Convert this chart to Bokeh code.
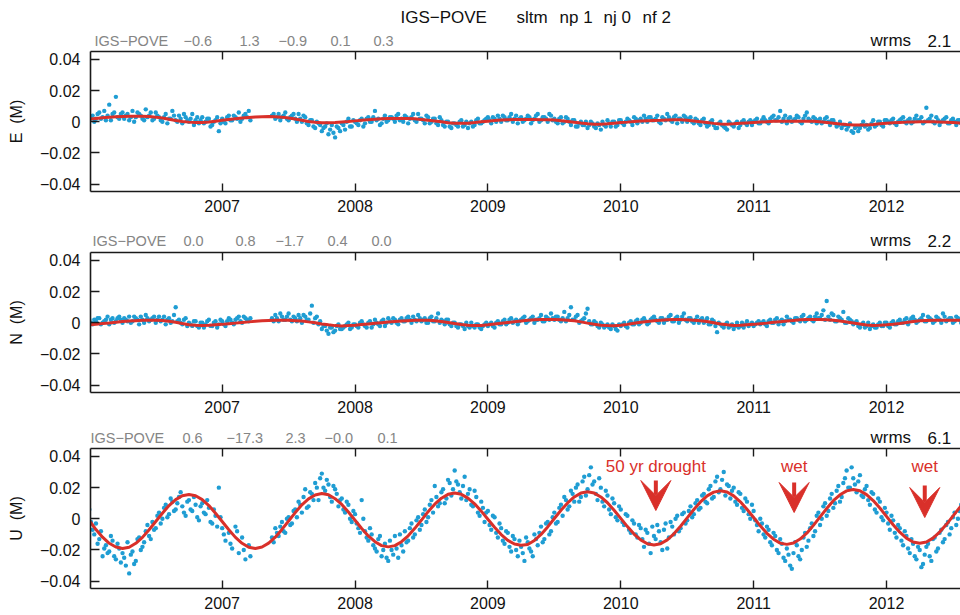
import numpy as np
from bokeh.plotting import figure
from bokeh.layouts import column
from bokeh.models import LinearAxis, FixedTicker, Label, Arrow, VeeHead, Range1d
from bokeh.core.properties import value
from bokeh.embed import file_html
from bokeh.resources import INLINE

# ---------------- data ----------------
OBS_START = 2006.0     # first plotted observation epoch (decimal year), series a
OBS_START_B = 2006.0125  # series b epochs sit between those of series a
OBS_STEP = 0.025       # spacing of the plotted observations (years)
FIT_START = 2006.0
FIT_STEP = 0.05

e_obs = [
    0.001, 0.004, 0.002, 0.006, 0.003, 0.001, 0.011, 0.005, 0.016, 0.002,
    0.006, 0.004, 0.001, 0.007, 0.003, 0.005, 0.002, 0.008, 0.004, 0.001,
    0.006, 0.003, 0.000, 0.005, 0.002, 0.007, 0.001, 0.004, -0.001, 0.003,
    0.000, 0.005, 0.001, -0.001, 0.003, 0.000, 0.002, -0.002, 0.001, -0.006,
    0.002, -0.001, 0.004, 0.001, 0.003, 0.006, 0.002, 0.005, 0.007, None,
    None, None, None, None, None, 0.004, 0.002, 0.005, 0.003, 0.006,
    0.001, 0.004, 0.002, 0.005, 0.000, 0.003, -0.002, 0.001, -0.004, -0.001,
    -0.006, -0.003, -0.008, -0.002, -0.010, -0.004, -0.001, -0.005, 0.002, -0.003,
    0.000, -0.002, 0.002, -0.001, 0.003, 0.000, 0.007, 0.002, -0.001, 0.004,
    0.001, 0.003, 0.000, 0.005, 0.002, 0.004, -0.001, 0.003, 0.001, 0.005,
    0.002, -0.001, 0.003, 0.000, 0.002, -0.002, 0.001, -0.003, 0.000, -0.004,
    -0.001, -0.003, 0.001, -0.002, -0.004, 0.000, -0.002, 0.002, -0.001, 0.001,
    0.003, -0.001, 0.002, 0.004, 0.000, 0.003, 0.001, 0.005, 0.002, -0.001,
    0.003, 0.001, 0.004, -0.001, 0.002, 0.005, 0.001, 0.003, 0.000, 0.004,
    0.002, -0.001, 0.003, 0.000, 0.002, -0.002, 0.001, -0.003, 0.000, -0.002,
    -0.004, 0.000, -0.003, -0.001, -0.005, -0.002, 0.001, -0.003, 0.000, -0.002,
    0.001, -0.002, 0.002, 0.000, 0.003, -0.001, 0.002, 0.004, 0.000, 0.003,
    0.001, 0.004, -0.001, 0.002, 0.005, 0.001, 0.003, -0.001, 0.002, 0.004,
    0.000, 0.003, -0.001, 0.001, -0.002, 0.002, -0.003, 0.000, -0.002, -0.004,
    0.000, -0.003, -0.005, -0.001, -0.003, 0.000, -0.002, 0.001, -0.002, 0.001,
    0.000, 0.002, -0.001, 0.003, 0.000, 0.002, 0.004, 0.001, 0.007, 0.002,
    -0.001, 0.003, 0.001, 0.004, 0.000, 0.002, 0.006, 0.001, 0.003, -0.001,
    0.002, 0.000, 0.003, -0.002, 0.001, -0.003, 0.000, -0.002, -0.005, -0.001,
    -0.007, -0.003, -0.004, 0.000, -0.002, -0.004, 0.001, -0.002, 0.000, -0.003,
    0.001, -0.001, 0.002, -0.002, 0.001, 0.003, -0.001, 0.002, 0.000, 0.004,
    0.001, -0.001, 0.009, 0.002, 0.000, 0.003, -0.002, 0.001, 0.003, -0.001,
    0.002, -0.002, 0.001, 0.000,
]

e_obs_b = [
    0.003, 0.000, 0.005, 0.002, 0.007, 0.004, 0.001, 0.006, 0.003, 0.005,
    0.002, 0.005, 0.003, 0.000, 0.006, 0.004, 0.001, 0.003, 0.006, 0.002,
    0.004, 0.001, 0.003, -0.001, 0.002, 0.004, 0.000, 0.002, 0.005, 0.001,
    0.002, -0.002, 0.003, 0.001, -0.001, 0.002, -0.003, 0.000, 0.003, -0.001,
    0.000, 0.003, 0.001, 0.004, 0.002, 0.000, 0.004, 0.003, 0.001, None,
    None, None, None, None, None, 0.005, 0.003, 0.001, 0.004, 0.002,
    0.003, 0.005, 0.000, 0.002, 0.004, -0.001, 0.001, -0.003, 0.000, -0.002,
    -0.004, -0.001, -0.005, -0.007, -0.003, -0.006, -0.002, 0.000, -0.003, 0.001,
    -0.001, 0.001, -0.003, 0.002, 0.000, 0.003, 0.001, -0.002, 0.002, 0.000,
    0.003, 0.002, 0.004, 0.001, 0.000, 0.003, 0.002, 0.005, 0.000, 0.002,
    0.001, 0.004, -0.001, 0.002, -0.001, 0.003, -0.002, 0.000, -0.003, -0.001,
    -0.002, 0.000, -0.003, 0.000, -0.001, -0.003, 0.001, -0.001, 0.000, 0.002,
    0.001, 0.003, 0.000, 0.002, 0.004, 0.001, 0.003, 0.000, 0.004, 0.002,
    0.000, 0.002, 0.003, 0.001, 0.004, 0.000, 0.003, 0.002, 0.005, 0.001,
    0.000, 0.002, -0.001, 0.003, 0.000, 0.001, -0.003, -0.001, -0.002, 0.000,
    -0.002, -0.001, -0.004, -0.002, 0.000, -0.003, -0.001, 0.000, -0.003, 0.001,
    -0.001, 0.000, 0.001, -0.002, 0.002, 0.001, 0.000, 0.002, 0.003, 0.001,
    0.002, 0.000, 0.003, 0.001, 0.003, 0.000, 0.004, 0.002, 0.000, 0.003,
    0.002, 0.000, 0.002, -0.001, 0.001, -0.001, -0.002, 0.001, -0.004, -0.001,
    -0.002, -0.004, 0.000, -0.002, -0.001, -0.004, 0.000, -0.001, 0.000, -0.002,
    0.001, -0.001, 0.001, 0.001, -0.001, 0.003, 0.001, 0.003, 0.000, 0.004,
    0.002, 0.000, 0.002, 0.003, -0.001, 0.004, 0.002, 0.000, 0.002, 0.001,
    -0.001, 0.002, 0.000, 0.001, -0.001, -0.002, -0.004, -0.002, -0.003, -0.006,
    -0.004, -0.006, -0.002, -0.003, -0.005, -0.001, -0.003, 0.000, -0.002, 0.001,
    0.000, 0.001, -0.001, 0.000, 0.002, 0.000, 0.001, -0.001, 0.002, 0.001,
    0.003, 0.000, 0.001, 0.004, -0.001, 0.001, 0.000, 0.002, -0.001, 0.001,
    0.000, 0.001, -0.001, 0.002,
]

n_obs = [
    0.002, -0.001, 0.001, 0.003, 0.000, 0.002, -0.001, 0.003, 0.001, 0.004,
    0.000, 0.002, 0.004, 0.001, 0.003, -0.001, 0.002, 0.005, 0.001, 0.003,
    0.000, 0.004, 0.002, -0.001, 0.003, 0.001, 0.010, 0.002, -0.001, 0.003,
    0.000, -0.002, 0.001, -0.003, 0.000, -0.001, 0.002, -0.002, 0.001, -0.001,
    0.001, -0.002, 0.003, 0.000, 0.002, 0.004, 0.000, 0.003, 0.001, None,
    None, None, None, None, None, 0.003, 0.005, 0.001, 0.004, 0.002,
    0.006, 0.001, 0.003, 0.005, 0.000, 0.004, 0.002, 0.011, 0.003, -0.001,
    -0.004, -0.002, -0.007, -0.003, -0.005, -0.001, -0.004, -0.002, 0.000, -0.003,
    -0.001, -0.003, 0.001, -0.002, 0.000, -0.003, 0.002, -0.001, 0.001, -0.002,
    0.003, 0.000, 0.002, -0.001, 0.003, 0.001, 0.004, 0.000, 0.002, 0.005,
    0.001, 0.003, 0.000, 0.004, 0.001, 0.006, 0.002, -0.001, 0.002, -0.002,
    0.000, -0.003, -0.001, -0.004, -0.002, 0.000, -0.003, -0.001, -0.004, -0.001,
    -0.002, 0.000, -0.003, 0.001, -0.001, 0.002, 0.000, 0.003, 0.001, -0.001,
    0.002, 0.004, 0.001, 0.003, 0.000, 0.002, 0.005, 0.001, 0.003, 0.006,
    0.002, 0.004, 0.001, 0.007, 0.003, 0.010, 0.002, 0.005, 0.001, 0.003,
    0.009, -0.001, 0.001, -0.002, 0.000, -0.003, -0.001, -0.004, -0.002, -0.005,
    -0.002, 0.000, -0.003, 0.001, -0.001, 0.002, 0.000, 0.003, -0.001, 0.002,
    0.004, 0.001, 0.003, 0.000, 0.002, 0.005, 0.001, 0.004, 0.002, 0.006,
    0.001, 0.003, 0.000, 0.004, 0.002, 0.000, 0.003, -0.001, 0.001, -0.006,
    -0.001, -0.003, 0.000, -0.002, -0.004, 0.000, -0.002, -0.003, 0.001, -0.001,
    -0.002, 0.000, -0.001, 0.001, -0.002, 0.002, 0.000, 0.003, 0.001, -0.001,
    0.004, 0.002, 0.000, 0.003, 0.001, 0.005, 0.002, 0.004, 0.001, 0.006,
    0.003, 0.008, 0.014, 0.002, 0.005, 0.001, 0.003, 0.007, 0.000, 0.002,
    -0.001, 0.001, -0.003, 0.000, -0.002, -0.004, -0.001, -0.003, 0.000, -0.002,
    0.000, -0.003, 0.001, -0.001, 0.002, 0.000, 0.003, 0.001, 0.004, 0.000,
    0.002, 0.005, 0.001, 0.003, 0.000, 0.004, 0.002, 0.006, 0.001, 0.003,
    0.000, 0.004, 0.002, 0.001,
]

n_obs_b = [
    0.000, 0.002, 0.003, -0.001, 0.001, 0.004, 0.002, 0.000, 0.003, 0.002,
    0.003, 0.001, 0.000, 0.004, 0.002, 0.004, 0.000, 0.003, 0.002, 0.004,
    0.002, 0.001, 0.004, 0.002, 0.000, 0.005, 0.001, 0.000, 0.002, -0.002,
    -0.001, 0.001, -0.002, 0.000, -0.003, 0.001, -0.002, 0.000, -0.003, 0.002,
    -0.001, 0.001, 0.002, -0.001, 0.003, 0.001, 0.004, 0.002, 0.003, None,
    None, None, None, None, None, 0.001, 0.003, 0.006, 0.002, 0.004,
    0.002, 0.004, 0.001, 0.003, 0.005, 0.002, 0.006, 0.000, 0.004, 0.001,
    -0.002, -0.005, -0.003, -0.006, -0.002, -0.004, -0.003, -0.001, -0.004, -0.001,
    -0.002, 0.000, -0.001, -0.003, 0.001, -0.001, 0.000, -0.002, 0.002, 0.000,
    0.001, 0.003, 0.000, 0.002, 0.001, 0.003, 0.002, 0.004, 0.001, 0.003,
    0.002, 0.000, 0.003, 0.001, 0.003, 0.000, 0.001, 0.002, -0.001, 0.000,
    -0.002, -0.001, -0.002, 0.000, -0.003, -0.002, -0.001, -0.003, -0.002, 0.000,
    -0.001, -0.002, 0.000, -0.001, 0.001, -0.001, 0.002, 0.000, 0.002, 0.001,
    0.003, 0.000, 0.002, 0.004, 0.002, 0.003, 0.001, 0.004, 0.002, 0.003,
    0.004, 0.002, 0.003, 0.001, 0.005, 0.002, 0.004, 0.000, 0.002, 0.006,
    0.001, -0.001, 0.000, -0.003, -0.001, -0.002, -0.003, -0.001, -0.004, -0.001,
    -0.001, -0.002, 0.000, -0.001, 0.001, -0.001, 0.002, 0.001, 0.000, 0.003,
    0.002, 0.000, 0.003, 0.002, 0.004, 0.001, 0.003, 0.000, 0.004, 0.002,
    0.003, 0.001, 0.002, 0.000, 0.003, 0.001, -0.001, 0.002, -0.002, 0.000,
    -0.002, -0.001, -0.003, -0.001, -0.002, -0.003, 0.000, -0.001, -0.002, 0.000,
    -0.001, 0.001, 0.000, -0.001, 0.001, 0.000, 0.002, -0.001, 0.002, 0.001,
    0.002, 0.001, 0.003, 0.002, 0.004, 0.001, 0.003, 0.002, 0.004, 0.003,
    0.005, 0.002, 0.004, 0.006, 0.001, 0.004, 0.002, 0.000, 0.003, 0.001,
    0.000, -0.002, -0.001, -0.003, 0.000, -0.002, -0.003, -0.001, -0.002, 0.000,
    -0.002, 0.000, -0.001, 0.001, 0.000, 0.002, -0.001, 0.003, 0.002, 0.001,
    0.003, 0.001, 0.004, 0.002, 0.001, 0.003, 0.000, 0.004, 0.002, 0.003,
    0.001, 0.003, 0.000, 0.002,
]

u_obs = [
    0.006, -0.007, -0.003, -0.013, -0.024, -0.017, -0.021, -0.014, -0.026, -0.019,
    -0.022, -0.030, -0.035, -0.021, -0.027, -0.012, -0.018, -0.008, -0.011, -0.002,
    -0.006, 0.004, 0.000, 0.009, 0.003, 0.011, 0.006, 0.014, 0.008, 0.002,
    0.012, 0.005, 0.009, -0.001, 0.010, 0.003, 0.007, -0.003, 0.002, 0.020,
    -0.006, -0.014, -0.009, -0.019, -0.005, -0.022, -0.012, -0.026, -0.017, None,
    None, None, None, None, None, -0.012, -0.006, -0.011, -0.002, -0.009,
    0.001, -0.003, 0.006, 0.011, 0.004, 0.019, 0.008, 0.016, 0.023, 0.012,
    0.029, 0.018, 0.022, 0.011, 0.019, 0.008, 0.013, 0.004, 0.009, -0.002,
    0.003, -0.006, 0.012, -0.008, -0.014, -0.010, -0.019, -0.013, -0.024, -0.016,
    -0.027, -0.020, -0.011, -0.025, -0.017, -0.008, -0.014, -0.003, -0.010, 0.001,
    -0.004, 0.006, 0.001, 0.012, 0.021, 0.008, 0.017, 0.010, 0.025, 0.015,
    0.031, 0.022, 0.013, 0.027, 0.016, 0.009, 0.018, 0.004, 0.011, -0.002,
    0.005, -0.007, 0.001, -0.012, -0.006, -0.016, -0.009, -0.021, -0.013, -0.024,
    -0.018, -0.027, -0.015, -0.021, -0.010, -0.017, -0.005, -0.013, -0.002, -0.008,
    0.004, -0.002, 0.009, 0.014, 0.006, 0.018, 0.011, 0.022, 0.014, 0.027,
    0.019, 0.033, 0.024, 0.012, 0.020, 0.008, 0.015, 0.003, 0.010, -0.001,
    0.006, -0.004, 0.002, -0.009, -0.003, -0.012, -0.006, -0.018, -0.009, -0.022,
    -0.011, -0.004, -0.015, -0.007, -0.019, -0.002, -0.010, 0.002, -0.006, 0.004,
    -0.001, 0.008, 0.003, 0.012, 0.007, 0.016, 0.010, 0.021, 0.014, 0.027,
    0.019, 0.030, 0.022, 0.013, 0.020, 0.009, 0.016, 0.005, 0.011, 0.000,
    0.005, -0.004, 0.000, -0.010, -0.005, -0.015, -0.009, -0.020, -0.013, -0.025,
    -0.019, -0.030, -0.022, -0.017, -0.026, -0.012, -0.018, -0.006, -0.011, 0.002,
    -0.004, 0.008, 0.002, 0.013, 0.007, 0.018, 0.011, 0.023, 0.031, 0.020,
    0.026, 0.017, 0.028, 0.014, 0.021, 0.009, 0.016, 0.004, 0.011, -0.001,
    0.004, -0.007, -0.001, -0.012, -0.006, -0.017, -0.011, -0.022, -0.016, -0.026,
    -0.020, -0.029, -0.018, -0.024, -0.013, -0.021, -0.009, -0.015, -0.004, -0.010,
    0.001, -0.004, 0.005, 0.008,
]

u_obs_b = [
    -0.002, -0.010, -0.016, -0.008, -0.019, -0.022, -0.011, -0.024, -0.016, -0.028,
    -0.025, -0.015, -0.023, -0.029, -0.013, -0.020, -0.015, -0.004, -0.013, -0.007,
    0.002, -0.003, 0.007, 0.001, 0.013, 0.005, 0.010, 0.017, 0.004, 0.011,
    0.006, 0.014, 0.001, 0.008, 0.004, 0.012, -0.002, 0.006, -0.005, 0.001,
    -0.010, None, -0.016, None, -0.008, None, -0.020, None, -0.024, None,
    None, None, None, None, None, -0.015, -0.009, -0.005, -0.008, 0.000,
    -0.004, 0.005, 0.001, 0.009, 0.014, 0.007, 0.017, 0.012, 0.020, 0.026,
    0.020, 0.025, 0.014, 0.021, 0.016, 0.012, 0.006, 0.011, 0.000, 0.005,
    -0.003, -0.009, 0.000, -0.012, -0.006, -0.017, -0.021, -0.011, -0.020, -0.025,
    -0.014, -0.023, -0.019, -0.010, -0.021, -0.015, -0.006, -0.012, -0.001, -0.007,
    0.003, -0.002, 0.009, 0.004, 0.014, 0.010, 0.019, 0.013, 0.023, 0.019,
    0.024, 0.017, 0.021, 0.012, 0.019, 0.008, 0.014, 0.002, 0.007, 0.004,
    -0.004, 0.002, -0.009, -0.003, -0.014, -0.008, -0.018, -0.011, -0.020, -0.014,
    -0.022, -0.012, -0.019, -0.024, -0.013, -0.009, -0.015, -0.003, -0.010, 0.001,
    -0.003, 0.007, 0.002, 0.012, 0.008, 0.016, 0.020, 0.011, 0.024, 0.015,
    0.028, 0.022, 0.016, 0.026, 0.011, 0.018, 0.006, 0.013, 0.001, 0.008,
    -0.002, 0.003, -0.007, -0.001, -0.010, -0.004, -0.013, -0.007, -0.016, -0.005,
    -0.013, -0.008, -0.020, -0.003, -0.012, -0.005, 0.000, -0.008, 0.003, -0.003,
    0.005, 0.001, 0.010, 0.006, 0.015, 0.011, 0.019, 0.013, 0.024, 0.017,
    0.025, 0.015, 0.021, 0.018, 0.011, 0.017, 0.007, 0.013, 0.003, 0.009,
    -0.001, -0.008, -0.003, -0.012, -0.007, -0.017, -0.011, -0.022, -0.016, -0.027,
    -0.023, -0.032, -0.015, -0.024, -0.020, -0.009, -0.014, -0.003, -0.008, 0.004,
    0.000, 0.010, 0.005, 0.016, 0.010, 0.021, 0.014, 0.026, 0.020, 0.033,
    0.022, 0.024, 0.015, 0.019, 0.012, 0.017, 0.006, 0.013, 0.001, 0.007,
    -0.003, 0.002, -0.009, -0.004, -0.014, -0.008, -0.019, -0.013, -0.024, -0.018,
    -0.031, -0.023, -0.016, -0.027, -0.012, -0.019, -0.007, -0.013, -0.002, -0.006,
    0.004, 0.000, 0.009, 0.006,
]

e_fit = [
    0.0018, 0.0022, 0.0026, 0.0029, 0.0032, 0.0034, 0.0035, 0.0036, 0.0036, 0.0034,
    0.0030, 0.0024, 0.0016, 0.0008, 0.0002, -0.0002, -0.0004, -0.0004, -0.0001, 0.0004,
    0.0010, 0.0015, 0.0020, 0.0024, 0.0028, 0.0031, 0.0033, 0.0034, 0.0033, 0.0030,
    0.0025, 0.0018, 0.0010, 0.0002, -0.0003, -0.0006, -0.0006, -0.0004, -0.0001, 0.0002,
    0.0006, 0.0010, 0.0014, 0.0017, 0.0019, 0.0021, 0.0022, 0.0022, 0.0021, 0.0019,
    0.0015, 0.0010, 0.0005, 0.0000, -0.0006, -0.0009, -0.0010, -0.0009, -0.0005, 0.0000,
    0.0004, 0.0008, 0.0011, 0.0013, 0.0015, 0.0015, 0.0015, 0.0015, 0.0014, 0.0013,
    0.0011, 0.0007, 0.0002, -0.0003, -0.0008, -0.0012, -0.0015, -0.0015, -0.0013, -0.0009,
    -0.0005, -0.0002, 0.0002, 0.0005, 0.0007, 0.0009, 0.0010, 0.0012, 0.0013, 0.0013,
    0.0010, 0.0005, 0.0000, -0.0005, -0.0010, -0.0014, -0.0015, -0.0013, -0.0010, -0.0007,
    -0.0004, -0.0001, 0.0001, 0.0003, 0.0004, 0.0004, 0.0004, 0.0004, 0.0004, 0.0003,
    0.0000, -0.0004, -0.0009, -0.0014, -0.0018, -0.0020, -0.0021, -0.0020, -0.0017, -0.0013,
    -0.0009, -0.0006, -0.0004, -0.0002, -0.0001, 0.0000, 0.0000, 0.0000, -0.0001, -0.0003,
    -0.0005, -0.0007, -0.0008,
]

n_fit = [
    -0.0013, -0.0009, -0.0005, -0.0001, 0.0004, 0.0009, 0.0012, 0.0014, 0.0016, 0.0017,
    0.0017, 0.0015, 0.0010, 0.0003, -0.0005, -0.0012, -0.0016, -0.0017, -0.0016, -0.0013,
    -0.0010, -0.0006, -0.0002, 0.0002, 0.0006, 0.0010, 0.0013, 0.0015, 0.0016, 0.0017,
    0.0016, 0.0014, 0.0011, 0.0006, 0.0000, -0.0007, -0.0013, -0.0018, -0.0020, -0.0018,
    -0.0015, -0.0011, -0.0007, -0.0003, 0.0001, 0.0005, 0.0008, 0.0011, 0.0014, 0.0016,
    0.0017, 0.0016, 0.0013, 0.0009, 0.0002, -0.0005, -0.0011, -0.0016, -0.0018, -0.0017,
    -0.0013, -0.0008, -0.0003, 0.0002, 0.0007, 0.0012, 0.0016, 0.0019, 0.0021, 0.0022,
    0.0022, 0.0020, 0.0017, 0.0013, 0.0006, -0.0002, -0.0009, -0.0015, -0.0018, -0.0019,
    -0.0016, -0.0010, -0.0003, 0.0004, 0.0009, 0.0013, 0.0017, 0.0020, 0.0022, 0.0022,
    0.0020, 0.0017, 0.0013, 0.0008, 0.0001, -0.0007, -0.0013, -0.0017, -0.0016, -0.0013,
    -0.0010, -0.0006, -0.0002, 0.0003, 0.0007, 0.0011, 0.0015, 0.0019, 0.0021, 0.0022,
    0.0021, 0.0019, 0.0016, 0.0011, 0.0005, -0.0001, -0.0008, -0.0014, -0.0017, -0.0016,
    -0.0013, -0.0009, -0.0004, 0.0002, 0.0008, 0.0013, 0.0015, 0.0016, 0.0017, 0.0017,
    0.0017, 0.0017, 0.0017,
]

u_fit = [
    -0.0010, -0.0069, -0.0118, -0.0157, -0.0181, -0.0190, -0.0182, -0.0157, -0.0119, -0.0070,
    -0.0017, 0.0036, 0.0085, 0.0123, 0.0148, 0.0156, 0.0148, 0.0123, 0.0085, 0.0036,
    -0.0017, -0.0070, -0.0119, -0.0157, -0.0182, -0.0190, -0.0181, -0.0156, -0.0118, -0.0068,
    -0.0014, 0.0040, 0.0090, 0.0128, 0.0153, 0.0162, 0.0154, 0.0129, 0.0092, 0.0044,
    -0.0009, -0.0062, -0.0110, -0.0147, -0.0172, -0.0180, -0.0172, -0.0147, -0.0109, -0.0061,
    -0.0008, 0.0046, 0.0094, 0.0132, 0.0157, 0.0165, 0.0157, 0.0133, 0.0096, 0.0049,
    -0.0003, -0.0054, -0.0101, -0.0138, -0.0162, -0.0170, -0.0165, -0.0139, -0.0100, -0.0052,
    0.0002, 0.0055, 0.0102, 0.0140, 0.0165, 0.0173, 0.0165, 0.0140, 0.0103, 0.0055,
    0.0003, -0.0050, -0.0098, -0.0135, -0.0160, -0.0168, -0.0160, -0.0135, -0.0096, -0.0048,
    0.0006, 0.0060, 0.0108, 0.0147, 0.0171, 0.0180, 0.0172, 0.0147, 0.0109, 0.0061,
    0.0008, -0.0045, -0.0093, -0.0131, -0.0156, -0.0164, -0.0155, -0.0130, -0.0092, -0.0042,
    0.0012, 0.0066, 0.0116, 0.0154, 0.0179, 0.0188, 0.0180, 0.0155, 0.0117, 0.0069,
    0.0016, -0.0038, -0.0086, -0.0124, -0.0149, -0.0157, -0.0149, -0.0124, -0.0085, -0.0037,
    0.0017, 0.0071, 0.0119,
]

components = ["E", "N", "U"]
site = "IGS−POVE"
title_parts = ["IGS−POVE", "sltm", "np 1", "nj 0", "nf 2"]
header_values = [
    ["−0.6", "1.3", "−0.9", "0.1", "0.3"],
    ["0.0", "0.8", "−1.7", "0.4", "0.0"],
    ["0.6", "−17.3", "2.3", "−0.0", "0.1"],
]
wrms_values = ["2.1", "2.2", "6.1"]
year_ticks = [2007, 2008, 2009, 2010, 2011, 2012]
y_ticks = [-0.04, -0.02, 0, 0.02, 0.04]
y_tick_labels = ["−0.04", "−0.02", "0", "0.02", "0.04"]
event_labels = ["50 yr drought", "wet", "wet"]
event_times = [2010.264, 2011.305, 2012.288]

# ---------------- layout / style ----------------
BLUE = "#1f9dd3"
RED = "#d9302a"
AXC = "#1a1a1a"
FONT = "Liberation Sans"
W = 960
X0, X1 = 2006.009, 2012.557
Y0, Y1 = -0.0447, 0.0451
FRAME_LEFT, FRAME_W, FRAME_H = 90, 870, 140
PAN_TOP_B = 1
PAN_BOT_B = [37, 33, 27]
STRIP_TOP = [0, 228, 425]      # page y where each header strip starts
STRIP_H = [50, 23, 22]
FRAME_TOP_PAGE = [51, 252, 448]
PXU = FRAME_H / (Y1 - Y0)


def yd(i, py):
    return Y1 + (FRAME_TOP_PAGE[i] - py) / PXU


t_obs = OBS_START + OBS_STEP * np.arange(len(u_obs))
t_obs_b = OBS_START_B + OBS_STEP * np.arange(len(u_obs_b))
t_fit = FIT_START + FIT_STEP * np.arange(len(u_fit))
obs_a = [np.array(e_obs, dtype=float), np.array(n_obs, dtype=float), np.array(u_obs, dtype=float)]
obs_b = [np.array(e_obs_b, dtype=float), np.array(n_obs_b, dtype=float), np.array(u_obs_b, dtype=float)]
fit_all = [np.array(e_fit), np.array(n_fit), np.array(u_fit)]

# header text positions, page pixels (the strips' frames are aligned with the panels: x 90..960)
header_px = [
    [94, 183, 239, 278, 330, 373],
    [92, 183, 235, 275, 327, 371],
    [90, 182, 226, 285, 324, 377],
]
header_py = [40, 240, 437]
title_px = [400, 516, 559, 603, 642]


def strip(i):
    top, h = STRIP_TOP[i], STRIP_H[i]
    s = figure(width=W, height=h, x_range=Range1d(FRAME_LEFT, W), y_range=Range1d(top + h, top),
               output_backend="svg", toolbar_location=None, x_axis_type=None, y_axis_type=None,
               min_border=0, min_border_left=FRAME_LEFT, min_border_right=0, min_border_top=0,
               min_border_bottom=0, outline_line_color=None, background_fill_color="white",
               border_fill_color="white")
    s.grid.visible = False
    toks = [site] + header_values[i]
    s.text(x=header_px[i], y=[header_py[i]] * len(toks), text=toks,
           text_font=value(FONT), text_font_size=value("14.5px"), text_color="#858585",
           text_align="left", text_baseline="middle")
    s.text(x=[870, 927], y=[header_py[i]] * 2, text=["wrms", wrms_values[i]],
           text_font=value(FONT), text_font_size=value("17px"), text_color="#111111",
           text_align="left", text_baseline="middle")
    if i == 0:
        s.text(x=title_px, y=[17] * len(title_parts), text=title_parts,
               text_font=value(FONT), text_font_size=value("17px"), text_color="#111111",
               text_align="left", text_baseline="middle")
    return s


def panel(i):
    comp = components[i]
    p = figure(width=W, height=PAN_TOP_B + FRAME_H + PAN_BOT_B[i],
               x_range=Range1d(X0, X1), y_range=Range1d(Y0, Y1),
               output_backend="svg", toolbar_location=None,
               min_border_left=FRAME_LEFT, min_border_right=0,
               min_border_top=PAN_TOP_B, min_border_bottom=PAN_BOT_B[i],
               outline_line_color=None, background_fill_color="white",
               border_fill_color="white")
    p.grid.visible = False

    xa = p.xaxis[0]
    xa.ticker = FixedTicker(ticks=year_ticks)
    xa.major_tick_in = 8
    xa.major_tick_out = 0
    xa.minor_tick_line_color = None
    xa.axis_line_width = 1.6
    xa.axis_line_color = AXC
    xa.major_tick_line_width = 1.4
    xa.major_tick_line_color = AXC
    xa.major_label_text_font = FONT
    xa.major_label_text_font_size = "16px"
    xa.major_label_text_color = "#111111"
    xa.major_label_standoff = 8

    top = LinearAxis(ticker=FixedTicker(ticks=year_ticks), major_tick_in=8, major_tick_out=0,
                     minor_tick_line_color=None, axis_line_width=1.6, axis_line_color=AXC,
                     major_tick_line_width=1.4, major_tick_line_color=AXC,
                     major_label_text_font_size="0px", major_label_standoff=0,
                     major_label_overrides={y: "" for y in year_ticks})
    p.add_layout(top, "above")

    ya = p.yaxis[0]
    ya.ticker = FixedTicker(ticks=y_ticks)
    ya.major_label_overrides = {v: s for v, s in zip(y_ticks, y_tick_labels)}
    ya.major_tick_in = 9
    ya.major_tick_out = 0
    ya.minor_tick_line_color = None
    ya.axis_line_width = 1.6
    ya.axis_line_color = AXC
    ya.major_tick_line_width = 1.4
    ya.major_tick_line_color = AXC
    ya.major_label_text_font = FONT
    ya.major_label_text_font_size = "16px"
    ya.major_label_text_color = "#111111"
    ya.major_label_standoff = 10
    ya.axis_label = comp + " \u00a0(M)"
    ya.axis_label_text_font = FONT
    ya.axis_label_text_font_size = "16px"
    ya.axis_label_text_font_style = "normal"
    ya.axis_label_text_color = "#111111"
    ya.axis_label_standoff = 12

    p.scatter(t_obs, obs_a[i], size=4.4, fill_color=BLUE, line_color=None)
    p.scatter(t_obs_b, obs_b[i], size=4.4, fill_color=BLUE, line_color=None)
    p.line(t_fit, fit_all[i], line_color=RED, line_width=3)

    if i == 2:
        text_py = [466, 466, 466]
        arrow_top = [480, 482, 485]
        arrow_tip = [510, 512, 517]
        for lab, tx, tp, a0, a1 in zip(event_labels, event_times, text_py, arrow_top, arrow_tip):
            p.add_layout(Label(x=tx, y=yd(2, tp), text=lab, text_font=FONT,
                               text_font_size="17px", text_color=RED,
                               text_align="center", text_baseline="middle"))
            p.add_layout(Arrow(x_start=tx, y_start=yd(2, a0), x_end=tx, y_end=yd(2, a1),
                               line_color=RED, line_width=4,
                               end=VeeHead(size=30, fill_color=RED, line_color=RED)))
    return p


children = []
for i in range(3):
    children.append(strip(i))
    children.append(panel(i))

layout = column(*children, spacing=0)
open("out.html", "w").write(file_html(layout, INLINE, title="IGS-POVE"))
